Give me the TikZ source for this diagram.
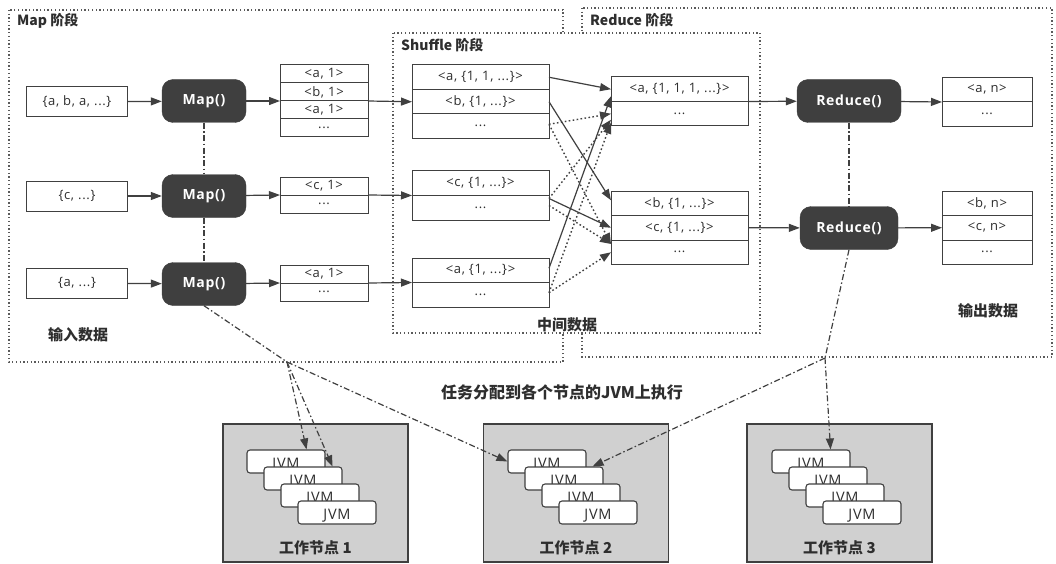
\documentclass[tikz,border=0pt]{standalone}
\usepackage{fontspec}
\setmainfont{Noto Sans CJK SC}
\newfontfamily\boxfont{Open Sans}[LetterSpace=5]
\usetikzlibrary{arrows.meta,positioning,calc}
\definecolor{linec}{HTML}{404040}
\definecolor{darkbox}{HTML}{3F3F3F}
\definecolor{phasec}{HTML}{5A5A5A}
\definecolor{workgray}{HTML}{D0D0D0}
\definecolor{txt}{HTML}{2E2E2E}
\tikzstyle{cell}=[draw=linec, line width=1pt, fill=white, text=txt, inner sep=0pt, outer sep=0pt, font=\boxfont\fontsize{13}{14}\selectfont]
\tikzstyle{inbox}=[cell, minimum width=101pt, minimum height=30pt]
\tikzstyle{mcell}=[cell, minimum width=88pt, minimum height=18pt]
\tikzstyle{scell}=[cell, minimum width=137pt, minimum height=24.5pt]
\tikzstyle{ocell}=[cell, minimum width=90pt, minimum height=24.5pt]
\tikzstyle{func}=[draw=linec, fill=darkbox, rounded corners=11pt, text=white, minimum height=43pt, inner sep=0pt, font=\boxfont\fontsize{14}{16}\selectfont\bfseries]
\tikzstyle{phase}=[draw=phasec, line width=1.3pt, dash pattern=on 1.3pt off 2.4pt]
\tikzstyle{flow}=[draw=linec, line width=1.2pt]
\tikzstyle{dots}=[dash pattern=on 1.6pt off 2.4pt, line width=1.4pt]
\tikzstyle{dashdot}=[draw=linec, line width=1.2pt, dash pattern=on 6pt off 2.5pt on 1.5pt off 2.5pt]
\tikzstyle{worker}=[draw=linec, line width=1.2pt, fill=workgray, minimum width=185pt, minimum height=138pt]
\tikzstyle{jvm}=[draw=linec, line width=1.1pt, fill=white, rounded corners=3pt, text=txt, minimum width=78pt, minimum height=23pt, inner sep=0pt, text height=13pt, text depth=0pt, font=\boxfont\fontsize{14.5}{16}\selectfont]
\tikzstyle{title}=[text=txt, inner sep=0pt, font=\fontsize{14}{16}\selectfont\bfseries]
\tikzstyle{caption}=[text=txt, inner sep=0pt, font=\fontsize{15}{17}\selectfont\bfseries]
\newcommand{\mcell}{\node[mcell]}
\newcommand{\scell}{\node[scell]}
\newcommand{\ocell}{\node[ocell]}
\newcommand{\func}{\node[func]}

\begin{document}
\begin{tikzpicture}[x=1pt, y=-1pt, >={Triangle[length=11pt,width=8pt]}, every edge/.style={flow, ->}]
\useasboundingbox (0,0) rectangle (1056,564);
% phases
\draw[phase] (9,10) rectangle (563,362);
\draw[phase] (582,8) rectangle (1052,357);
\draw[phase, fill=white] (393,33) rectangle (760,333);
\node[title, anchor=west] (tmap) at (17,21) {Map 阶段};
\node[title, anchor=west] (tred) at (590,20) {Reduce 阶段};
\node[title, anchor=west] (tshuf) at (401,45) {Shuffle 阶段};
\node[caption] (cin) at (78,335) {输入数据};
\node[caption] (cmid) at (567,325) {中间数据};
\node[caption] (cout) at (988,311) {输出数据};

% input data
\node[inbox] (in1) at (77,102) {\{a, b, a, ...\}};
\node[inbox] (in2) at (77,196) {\{c, ...\}};
\node[inbox] (in3) at (77,283) {\{a, ...\}};

\func[minimum width=84pt] (map1) at (204,101) {Map()};
\func[minimum width=84pt] (map2) at (204,196) {Map()};
\func[minimum width=84pt] (map3) at (204,284) {Map()};

% map output
\mcell (m1a) at (324,74) {<a, 1>};
\mcell (m1b) [below=0pt of m1a] {<b, 1>};
\mcell (m1c) [below=0pt of m1b] {<a, 1>};
\mcell (m1d) [below=0pt of m1c] {...};
\mcell (m2a) at (324,186) {<c, 1>};
\mcell (m2b) [below=0pt of m2a] {...};
\mcell (m3a) at (324,274) {<a, 1>};
\mcell (m3b) [below=0pt of m3a] {...};

% shuffle
\scell (s1a) at (480.5,77.25) {<a, \{1, 1, ...\}>};
\scell (s1b) [below=0pt of s1a] {<b, \{1, ...\}>};
\scell (s1c) [below=0pt of s1b] {...};
\scell (s2a) at (480.5,183.25) {<c, \{1, ...\}>};
\scell (s2b) [below=0pt of s2a] {...};
\scell (s3a) at (480.5,270.25) {<a, \{1, ...\}>};
\scell (s3b) [below=0pt of s3a] {...};

\scell (r1a) at (679.5,89.25) {<a, \{1, 1, 1, ...\}>};
\scell (r1b) [below=0pt of r1a] {...};
\scell (r2a) at (679.5,203.25) {<b, \{1, ...\}>};
\scell (r2b) [below=0pt of r2a] {<c, \{1, ...\}>};
\scell (r2c) [below=0pt of r2b] {...};

% reduce
\func[minimum width=104pt] (red1) at (849,101) {Reduce()};
\func[minimum width=98pt] (red2) at (849,228) {Reduce()};
\ocell (o1a) at (987,89.75) {<a, n>};
\ocell (o1b) [below=0pt of o1a] {...};
\ocell (o2a) at (987,203.25) {<b, n>};
\ocell (o2b) [below=0pt of o2a] {<c, n>};
\ocell (o2c) [below=0pt of o2b] {...};

\path
(in1) edge (map1) (in2) edge (map2) (in3) edge (map3)
(map1) edge (m1b.south west) (map2) edge (m2a.south west) (map3) edge (m3a.south west)
(m1b.south east) edge (s1b.west)
(m2a.south east) edge (s2a.south west)
(m3a.south east) edge (s3a.south west)
(r1a.south east) edge (red1) (r2b.east) edge (red2)
(red1) edge (o1a.south west) (red2) edge (o2b.west)
;
% shuffle crossing
\path
(s1a.east) edge (r1a.west)
(s1b.east) edge ($(r2a.west)+(0,-3)$)
($(s2b.north east)+(0,3)$) edge (r2b.west)
($(s3a.east)+(0,-2)$) edge ($(r1a.west)+(0,7)$)
;
\path[every edge/.append style={dots}]
($(s1c.east)+(0,-2)$) edge (r1b.west)
($(s1c.east)+(0,-2)$) edge ($(r2c.north west)+(0,4)$)
($(s2b.north east)+(0,10)$) edge ($(r2c.north west)+(0,4)$)
($(s2b.north east)+(0,3)$) edge ($(r1b.west)+(0,6)$)
($(s3b.east)+(0,-2)$) edge ($(r1b.west)+(0,9)$)
($(s3b.east)+(0,-2)$) edge (r2c.west)
;
\draw[dashdot] (map1) -- (map2);
\draw[dashdot] (map2) -- (map3);
\draw[dashdot] (red1) -- (red2);

% worker nodes
\node[worker] (w1) at (315.5,493) {};
\node[worker] (w2) at (576,493) {};
\node[worker] (w3) at (839.5,493) {};
\foreach \w/\x in {1/286,2/547,3/811} {
  \foreach \i in {0,...,3}
    \node[jvm] (jvm\w\i) at (\x+17*\i, 461.5+17*\i) {JVM};
}
\node[title, font=\fontsize{15}{17}\selectfont\bfseries] (w1t) at (315.5,548) {工作节点 1};
\node[title, font=\fontsize{15}{17}\selectfont\bfseries] (w2t) at (576,548) {工作节点 2};
\node[title, font=\fontsize{15}{17}\selectfont\bfseries] (w3t) at (839.5,548) {工作节点 3};
\node[title, font=\fontsize{16}{18}\selectfont\bfseries] (task) at (562,392) {任务分配到各个节点的JVM上执行};

\coordinate (j1) at (287,362);
\coordinate (j2) at (825,358);
\draw[dashdot] (map3.south) -- (j1);
\draw[dashdot, ->] (j1) -- ($(jvm10.north east)+(-19,0)$);
\draw[dashdot, ->] (j1) -- ($(jvm11.north east)+(-10,0)$);
\draw[dashdot, ->] (j1) -- (jvm20.west);
\draw[dashdot] (red2.south) -- (j2);
\draw[dashdot, ->] (j2) -- ($(jvm30.north east)+(-20,0)$);
\draw[dashdot, ->] (j2) -- ($(jvm21.north east)+(-11,0)$);
\end{tikzpicture}
\end{document}
